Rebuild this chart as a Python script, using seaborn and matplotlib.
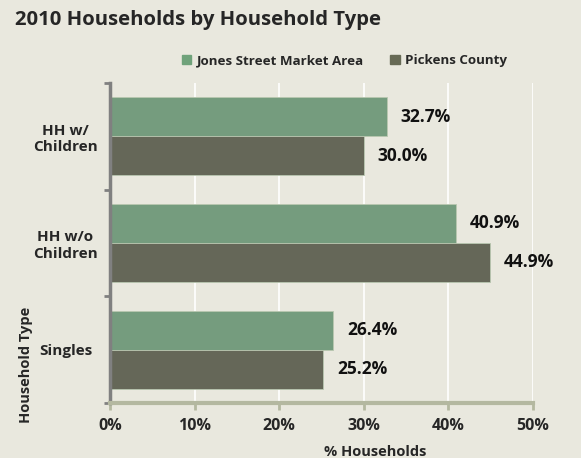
import pandas as pd
import seaborn as sns
from matplotlib import pyplot as plt

categories = ["HH w/\nChildren", "HH w/o\nChildren", "Singles"]
series = ["Jones Street Market Area", "Pickens County"]
jones = [32.7, 40.9, 26.4]
pickens = [30.0, 44.9, 25.2]
xticks = [0, 10, 20, 30, 40, 50]

df = pd.DataFrame({
    "type": categories * 2,
    "area": [series[0]] * 3 + [series[1]] * 3,
    "pct": jones + pickens,
})

bg = "#E9E8DE"
sns.set_style("white")
plt.rcParams["font.family"] = ["Open Sans", "DejaVu Sans"]
plt.rcParams["font.weight"] = "bold"

fig = plt.figure(figsize=(5.81, 4.58), dpi=100, facecolor=bg)
ax = fig.add_axes([0.1893, 0.120, 0.728, 0.699], facecolor=bg)

sns.barplot(data=df, y="type", x="pct", hue="area", order=categories,
            hue_order=series, palette=["#6FA27A", "#676A55"], orient="h",
            width=0.73, ax=ax, edgecolor="#B9C7B0", linewidth=0.6,
            legend=False)

for cont in ax.containers:
    ax.bar_label(cont, labels=[f"{v:.1f}%" for v in cont.datavalues],
                 padding=10, fontsize=12.5, fontweight="bold", color="#111111")

ax.set_xlim(0, 50)
ax.set_ylim(len(categories) - 0.5, -0.5)
ax.set_xticks(xticks)
ax.set_xticklabels([f"{t}%" for t in xticks], fontsize=11.5, fontweight="bold")
ax.xaxis.grid(True, color="white", linewidth=1.2)
ax.set_axisbelow(True)
for lab in ax.get_yticklabels():
    lab.set_fontsize(11)
    lab.set_fontweight("bold")
    lab.set_horizontalalignment("center")
# category ticks sit between the groups, as in the original
ax.set_yticks([i - 0.5 for i in range(len(categories) + 1)], minor=True)
ax.tick_params(axis="y", which="major", left=True, pad=32, length=0)
ax.tick_params(axis="y", which="minor", left=True, length=4,
               color="#808080", width=2)
ax.tick_params(axis="x", bottom=True, length=5, color="#B4B8A0", width=2,
               pad=6)

for s in ["top", "right"]:
    ax.spines[s].set_visible(False)
ax.spines["left"].set_color("#808080")
ax.spines["left"].set_linewidth(2.5)
ax.spines["bottom"].set_color("#B4B8A0")
ax.spines["bottom"].set_linewidth(3)

ax.set_xlabel("% Households", fontsize=10.5, fontweight="bold")
ax.xaxis.set_label_coords(0.626, -0.154, transform=ax.transAxes)
ax.xaxis.label.set_verticalalignment("center")
ax.set_ylabel("Household Type", fontsize=10.5, fontweight="bold")
ax.yaxis.set_label_coords(-0.199, -0.0625, transform=ax.transAxes)
ax.yaxis.label.set_horizontalalignment("left")
ax.yaxis.label.set_verticalalignment("center")

fig.text(0.026, 0.956, "2010 Households by Household Type", fontsize=14.6,
         fontweight="bold", va="center", ha="left")

handles = [plt.Rectangle((0, 0), 1, 1, color=c) for c in ["#6FA27A", "#676A55"]]
fig.legend(handles, series, loc="center", bbox_to_anchor=(0.593, 0.868),
           ncol=2, frameon=False, fontsize=9.6, handlelength=0.7,
           handleheight=0.7, handletextpad=0.4, columnspacing=2.0)

fig.savefig("out.png", dpi=100, facecolor=bg)
